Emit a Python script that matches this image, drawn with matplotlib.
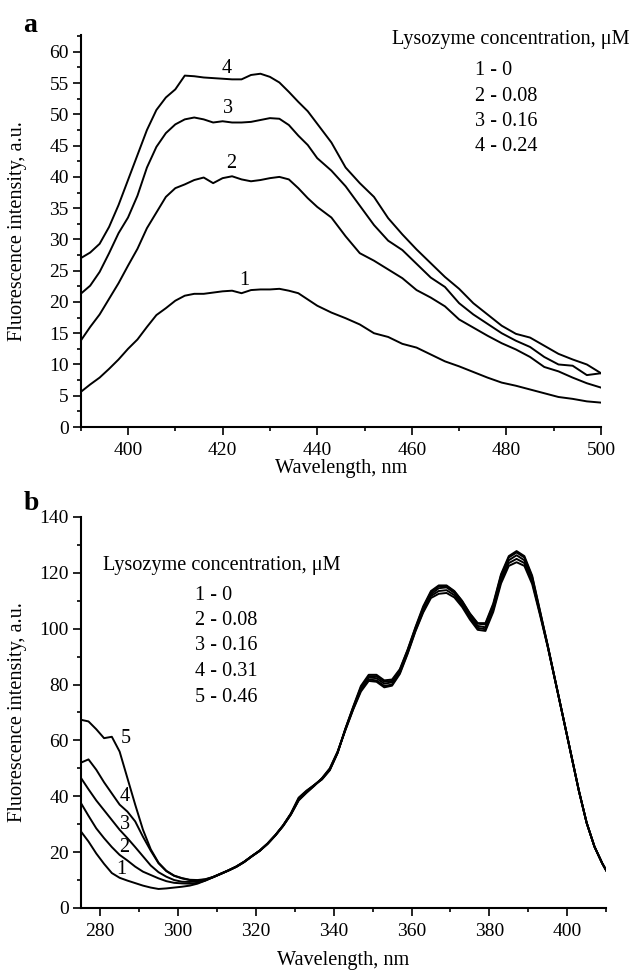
import numpy as np
from matplotlib import pyplot as plt
from matplotlib.ticker import MultipleLocator

plt.rcParams['font.family'] = ['Liberation Serif', 'DejaVu Serif']
plt.rcParams['mathtext.fontset'] = 'stix'

#%% DATOS panel a

wl_a = [390, 392, 394, 396, 398, 400, 402, 404, 406, 408, 410, 412, 414, 416, 418,
        420, 422, 424, 426, 428, 430, 432, 434, 436, 438, 440,
        443, 446, 449, 452, 455, 458, 461, 464, 467, 470, 473, 476, 479, 482,
        485, 488, 491, 494, 497, 500]

a1 = [5.6, 6.8, 7.9, 9.3, 10.8, 12.5, 14.0, 16.0, 17.9, 19.0, 20.2, 21.0, 21.3, 21.3, 21.5,
      21.7, 21.8, 21.4, 21.9, 22.0, 22.0, 22.1, 21.8, 21.4, 20.4, 19.4,
      18.3, 17.4, 16.4, 15.0, 14.4, 13.3, 12.7, 11.6, 10.5, 9.7, 8.8, 7.9, 7.1, 6.6,
      6.0, 5.4, 4.8, 4.5, 4.1, 3.9]
a2 = [13.8, 16.0, 18.0, 20.5, 23.0, 25.8, 28.5, 31.8, 34.3, 36.8, 38.2, 38.8, 39.5, 39.9, 39.0,
      39.8, 40.1, 39.6, 39.3, 39.5, 39.8, 40.0, 39.6, 38.2, 36.6, 35.2,
      33.5, 30.5, 27.8, 26.6, 25.2, 23.8, 21.9, 20.7, 19.3, 17.2, 15.9, 14.6, 13.4, 12.4,
      11.2, 9.6, 8.9, 7.9, 7.0, 6.3]
a3 = [21.3, 22.6, 24.8, 27.8, 31.0, 33.5, 37.0, 41.5, 44.8, 47.0, 48.4, 49.2, 49.5, 49.2, 48.7,
      48.9, 48.7, 48.7, 48.8, 49.1, 49.4, 49.3, 48.3, 46.6, 45.1, 43.0,
      41.0, 38.5, 35.4, 32.3, 29.8, 28.3, 26.1, 23.9, 22.4, 19.8, 18.0, 16.5, 15.0, 13.8,
      12.8, 11.2, 10.0, 9.8, 8.3, 8.6]
a4 = [27.0, 27.9, 29.3, 32.0, 35.5, 39.5, 43.5, 47.5, 50.7, 52.7, 54.0, 56.2, 56.1, 55.9, 55.8,
      55.7, 55.6, 55.6, 56.3, 56.5, 56.0, 55.1, 53.6, 52.0, 50.5, 48.5,
      45.5, 41.5, 39.0, 36.8, 33.4, 30.8, 28.4, 26.2, 24.0, 22.1, 19.8, 18.0, 16.2, 14.9,
      14.3, 13.0, 11.7, 10.8, 10.0, 8.6]

conc_a = ['1 - 0', '2 - 0.08', '3 - 0.16', '4 - 0.24']

#%% DATOS panel b

wl_b = [275, 277, 279, 281, 283, 285, 287, 289, 291, 293, 295, 297, 299, 301, 303, 305, 307,
        309, 311, 313, 315, 317, 319, 321, 323, 325, 327, 329, 331, 333, 335, 337, 339, 341, 343,
        345, 347, 349, 351, 353, 355, 357, 359, 361, 363, 365, 367, 369, 371, 373, 375, 377,
        379, 381, 383, 385, 387, 389, 391, 393, 395,
        397, 399, 401, 403, 405, 407, 409, 410]

b1 = [27.5, 23.8, 19.5, 15.8, 12.5, 10.8, 9.8, 8.9, 8.0, 7.3, 6.8, 7.0, 7.3, 7.6, 8.0, 8.7, 9.8,
      11.0, 12.2, 13.4, 14.8, 16.5, 18.6, 20.5, 23.0, 26.0, 29.5, 33.8, 39.5, 42.0, 44.0, 46.0, 49.3, 55.5, 64.2,
      72.0, 79.5, 83.5, 83.5, 81.5, 81.8, 85.5, 92.5, 100.5, 108.0, 113.5, 115.5, 115.5, 113.5, 110.0, 105.5, 102.0,
      102.0, 109.0, 119.5, 126.0, 127.8, 126.0, 119.0, 106.5, 94.0,
      81.0, 68.0, 55.0, 42.0, 30.5, 22.0, 16.0, 13.5]
b2 = [37.7, 33.0, 28.5, 25.0, 21.8, 19.0, 17.0, 14.8, 13.0, 11.8, 10.6, 9.6, 9.0, 8.8, 8.7, 9.0, 9.8,
      11.0, 12.2, 13.5, 14.9, 16.6, 18.6, 20.5, 23.0, 26.0, 29.6, 33.8, 39.2, 41.8, 44.0, 46.2, 49.5, 55.5, 64.0,
      71.8, 79.0, 83.0, 83.0, 81.0, 81.3, 85.2, 92.3, 100.2, 107.5, 113.0, 115.2, 115.3, 113.3, 109.8, 105.3, 101.8,
      101.5, 108.5, 119.0, 125.5, 127.3, 125.5, 118.5, 106.3, 94.0,
      81.0, 68.0, 55.0, 42.0, 30.5, 22.0, 16.0, 13.5]
b3 = [46.7, 42.5, 38.5, 35.0, 31.5, 28.0, 25.0, 21.8, 18.5, 15.2, 12.8, 11.2, 10.0, 9.4, 9.3, 9.6, 10.0,
      11.1, 12.3, 13.5, 14.8, 16.5, 18.6, 20.6, 23.1, 26.1, 29.5, 33.6, 38.8, 41.6, 44.0, 46.3, 49.6, 55.6, 64.0,
      71.5, 78.5, 82.5, 82.3, 80.3, 80.8, 84.8, 91.8, 99.8, 106.8, 112.3, 114.5, 114.8, 112.8, 109.2, 104.7, 101.0,
      100.5, 107.5, 118.0, 124.5, 126.3, 124.5, 117.5, 105.8, 93.8,
      81.0, 68.0, 55.0, 42.0, 30.5, 22.0, 16.0, 13.5]
b4 = [52.0, 53.2, 49.5, 45.0, 41.0, 37.0, 34.5, 31.0, 25.5, 20.5, 16.0, 13.2, 11.5, 10.6, 10.0, 9.8, 10.2,
      11.0, 12.2, 13.4, 14.7, 16.4, 18.5, 20.5, 23.0, 26.0, 29.4, 33.5, 38.6, 41.4, 43.8, 46.4, 49.8, 55.8, 63.8,
      71.2, 78.0, 81.8, 81.5, 79.5, 80.0, 84.2, 91.3, 99.3, 106.2, 111.7, 113.5, 113.8, 112.0, 108.5, 104.0, 100.3,
      99.8, 106.8, 117.0, 123.5, 125.0, 123.5, 116.8, 105.5, 93.6,
      80.8, 68.0, 55.0, 42.0, 30.5, 22.0, 16.0, 13.5]
b5 = [67.4, 66.8, 64.0, 60.8, 61.3, 56.0, 46.5, 37.0, 28.0, 21.0, 16.2, 13.3, 11.6, 10.7, 10.1, 10.0, 10.3,
      11.1, 12.3, 13.5, 14.8, 16.5, 18.5, 20.4, 22.9, 25.9, 29.3, 33.4, 38.5, 41.2, 43.7, 46.5, 50.0, 56.0, 63.6,
      71.0, 77.5, 81.3, 81.0, 79.0, 79.6, 83.8, 91.0, 99.0, 105.8, 111.0, 112.5, 112.8, 111.2, 107.8, 103.3, 99.6,
      99.2, 106.0, 116.2, 122.5, 123.8, 122.5, 116.0, 105.0, 93.5,
      80.8, 68.0, 55.0, 42.0, 30.5, 22.0, 16.0, 13.5]

conc_b = ['1 - 0', '2 - 0.08', '3 - 0.16', '4 - 0.31', '5 - 0.46']

#%% FIGURA

fs = 14
ft = 14.6

def applyPlotStyle(ax):
    ax.spines['top'].set_visible(False)
    ax.spines['right'].set_visible(False)
    ax.spines['left'].set_linewidth(1.5)
    ax.spines['bottom'].set_linewidth(1.5)
    ax.tick_params(which='major', direction='out', length=5.5, width=1.2, labelsize=fs)
    ax.tick_params(which='minor', direction='out', length=3, width=1.2)
    ax.tick_params(axis='x', pad=5)
    ax.tick_params(axis='y', pad=3)

fig = plt.figure(figsize=(6.33, 9.74), dpi=100)

# panel a
ax1 = fig.add_axes([0.1275, 0.5616, 0.822, 0.4025])
for y in [a1, a2, a3, a4]:
    ax1.plot(wl_a, y, color='black', linewidth=1.4)
ax1.set_xlim(390, 500)
ax1.set_ylim(0, 62.7)
ax1.xaxis.set_major_locator(MultipleLocator(20))
ax1.xaxis.set_minor_locator(MultipleLocator(10))
ax1.yaxis.set_major_locator(MultipleLocator(5))
ax1.yaxis.set_minor_locator(MultipleLocator(2.5))
applyPlotStyle(ax1)
ax1.set_xlabel('Wavelength, nm', fontsize=ft, labelpad=0)
ax1.set_ylabel('Fluorescence intensity, a.u.', fontsize=ft)
ax1.yaxis.set_label_coords(-0.103, 0.5)

for lab, (xx, yy) in zip(['1', '2', '3', '4'],
                         [(424.5, 23.4), (421.9, 42.2), (421.2, 51.0), (420.9, 57.4)]):
    ax1.text(xx, yy, lab, fontsize=ft, ha='center', va='center')

ax1.text(455.9, 61.9, 'Lysozyme concentration, μM', fontsize=ft, va='center')
for c, yy in zip(conc_a, [57.0, 52.8, 48.8, 44.8]):
    ax1.text(473.3, yy, c, fontsize=ft, va='center')

fig.text(23/633, 1-26/974, 'a', fontsize=20, fontweight='bold', va='center')

# panel b
ax2 = fig.add_axes([0.1275, 0.0678, 0.830, 0.4014])
for y in [b1, b2, b3, b4, b5]:
    ax2.plot(wl_b, y, color='black', linewidth=1.4)
ax2.set_xlim(275, 410)
ax2.set_ylim(0, 140)
ax2.xaxis.set_major_locator(MultipleLocator(20))
ax2.xaxis.set_minor_locator(MultipleLocator(10))
ax2.yaxis.set_major_locator(MultipleLocator(20))
ax2.yaxis.set_minor_locator(MultipleLocator(10))
applyPlotStyle(ax2)
ax2.set_xlabel('Wavelength, nm', fontsize=ft, labelpad=8)
ax2.set_ylabel('Fluorescence intensity, a.u.', fontsize=ft)
ax2.yaxis.set_label_coords(-0.102, 0.5)

for lab, (xx, yy) in zip(['1', '2', '3', '4', '5'],
                         [(285.5, 13.7), (286.1, 21.5), (286.4, 29.9), (286.4, 40.0), (286.6, 60.7)]):
    ax2.text(xx, yy, lab, fontsize=ft, ha='center', va='center')

ax2.text(280.7, 122.7, 'Lysozyme concentration, μM', fontsize=ft, va='center')
for c, yy in zip(conc_b, [111.9, 102.9, 93.9, 84.5, 75.5]):
    ax2.text(304.3, yy, c, fontsize=ft, va='center')

fig.text(24/633, 1-503/974, 'b', fontsize=20, fontweight='bold', va='center')

fig.savefig('out.png', dpi=100)
